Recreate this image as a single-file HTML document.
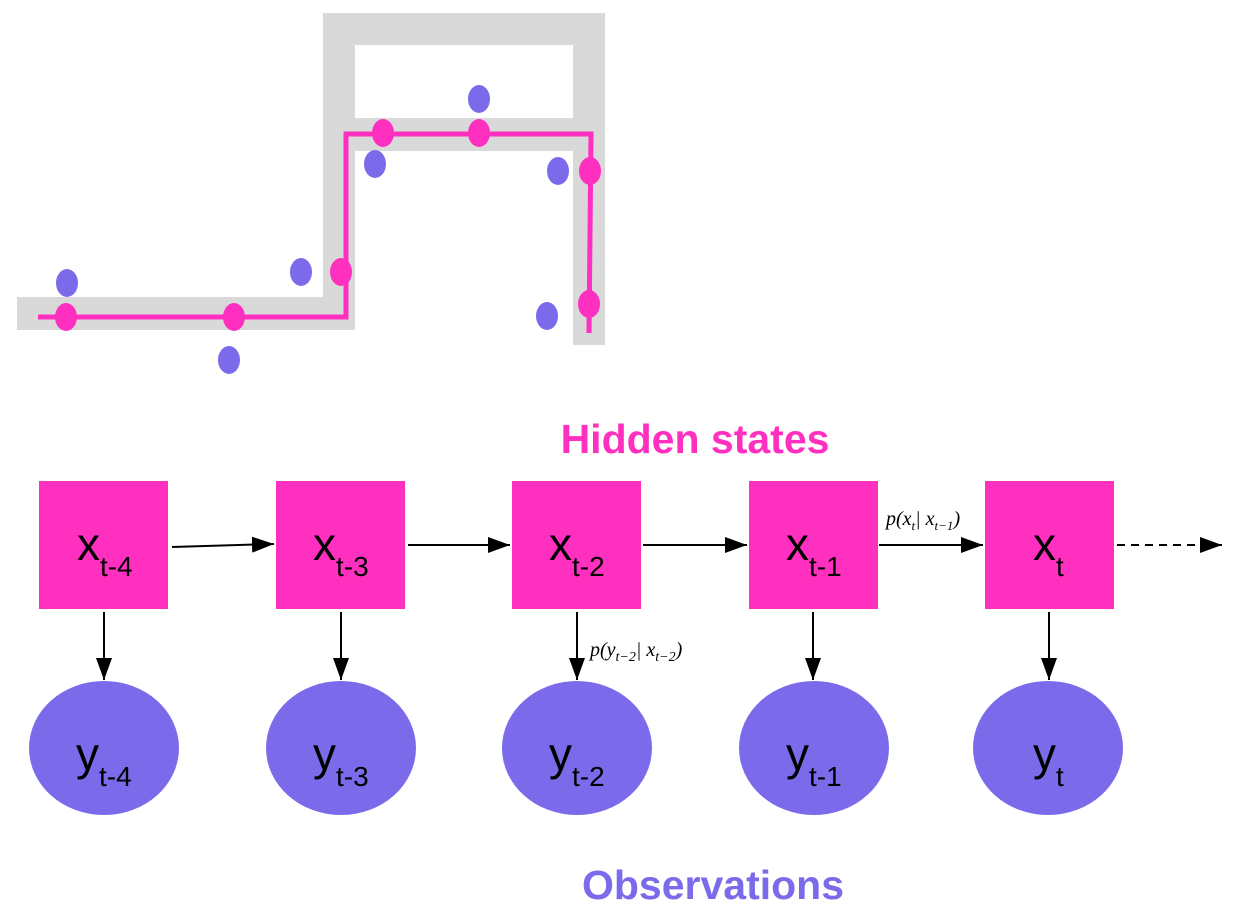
<!DOCTYPE html>
<html><head><style>body{margin:0;background:#fff}svg{display:block}</style></head><body>
<svg width="1238" height="912" viewBox="0 0 1238 912" xmlns="http://www.w3.org/2000/svg" font-family="Liberation Sans, sans-serif">
<defs>
<marker id="b" markerWidth="22" markerHeight="16" refX="22" refY="8" orient="auto" markerUnits="userSpaceOnUse"><path d="M0,0 L22,8 L0,16 z" fill="#000"/></marker></defs>
<g fill="#d9d9d9">
<rect x="17" y="297" width="338" height="33"/>
<rect x="323" y="118" width="32" height="212"/>
<rect x="323" y="13" width="282" height="32"/>
<rect x="323" y="13" width="32" height="105"/>
<rect x="573" y="13" width="32" height="332"/>
<rect x="323" y="118" width="282" height="33"/>
</g>
<polyline points="38,317 346,317 346,134 591,134 589,333" fill="none" stroke="#ff2fbf" stroke-width="5"/>
<g fill="#ff2fbf">
<ellipse cx="66" cy="317" rx="11" ry="14"/><ellipse cx="234" cy="317" rx="11" ry="14"/>
<ellipse cx="341" cy="272" rx="11" ry="14"/><ellipse cx="383" cy="133" rx="11" ry="14"/>
<ellipse cx="479" cy="133" rx="11" ry="14"/><ellipse cx="590" cy="171" rx="11" ry="14"/>
<ellipse cx="589" cy="304" rx="11" ry="14"/></g>
<g fill="#7b6bea">
<ellipse cx="67" cy="283" rx="11" ry="14"/><ellipse cx="229" cy="360" rx="11" ry="14"/>
<ellipse cx="301" cy="272" rx="11" ry="14"/><ellipse cx="479" cy="99" rx="11" ry="14"/>
<ellipse cx="375" cy="164" rx="11" ry="14"/><ellipse cx="558" cy="171" rx="11" ry="14"/>
<ellipse cx="547" cy="316" rx="11" ry="14"/></g>
<text x="695" y="453" text-anchor="middle" font-size="41" font-weight="bold" fill="#ff2fbf">Hidden states</text>
<text x="713" y="899" text-anchor="middle" font-size="41" font-weight="bold" fill="#7b6bea">Observations</text>
<g fill="#ff2fbf">
<rect x="39" y="481" width="129" height="128"/><rect x="276" y="481" width="129" height="128"/>
<rect x="512" y="481" width="129" height="128"/><rect x="749" y="481" width="129" height="128"/>
<rect x="985" y="481" width="129" height="128"/></g>
<g fill="#7b6bea">
<ellipse cx="104" cy="748" rx="75" ry="67"/><ellipse cx="341" cy="748" rx="75" ry="67"/>
<ellipse cx="577" cy="748" rx="75" ry="67"/><ellipse cx="814" cy="748" rx="75" ry="67"/>
<ellipse cx="1048" cy="748" rx="75" ry="67"/></g>
<g stroke="#000" stroke-width="2" fill="none">
<line x1="172" y1="547" x2="274" y2="544" marker-end="url(#b)"/>
<line x1="408" y1="545" x2="510" y2="545" marker-end="url(#b)"/>
<line x1="643" y1="545" x2="747" y2="545" marker-end="url(#b)"/>
<line x1="879" y1="545" x2="983" y2="545" marker-end="url(#b)"/>
<line x1="1117" y1="545" x2="1222" y2="545" stroke-dasharray="8,6" marker-end="url(#b)"/>
<line x1="104" y1="612" x2="104" y2="680" marker-end="url(#b)"/>
<line x1="341" y1="612" x2="341" y2="680" marker-end="url(#b)"/>
<line x1="577" y1="612" x2="577" y2="680" marker-end="url(#b)"/>
<line x1="813" y1="612" x2="813" y2="680" marker-end="url(#b)"/>
<line x1="1049" y1="612" x2="1049" y2="680" marker-end="url(#b)"/>
</g>
<g font-size="46" fill="#000">
<text x="77" y="560">x<tspan font-size="28" dy="16">t-4</tspan></text>
<text x="313" y="560">x<tspan font-size="28" dy="16">t-3</tspan></text>
<text x="549" y="560">x<tspan font-size="28" dy="16">t-2</tspan></text>
<text x="786" y="560">x<tspan font-size="28" dy="16">t-1</tspan></text>
<text x="1033" y="560">x<tspan font-size="28" dy="16">t</tspan></text>
<text x="76" y="770">y<tspan font-size="28" dy="16">t-4</tspan></text>
<text x="313" y="770">y<tspan font-size="28" dy="16">t-3</tspan></text>
<text x="549" y="770">y<tspan font-size="28" dy="16">t-2</tspan></text>
<text x="786" y="770">y<tspan font-size="28" dy="16">t-1</tspan></text>
<text x="1033" y="770">y<tspan font-size="28" dy="16">t</tspan></text>
</g>
<g font-family="Liberation Serif, serif" font-style="italic" font-size="20" fill="#000">
<text x="886" y="525">p(x<tspan font-size="13" dy="5">t</tspan><tspan dy="-5">| x</tspan><tspan font-size="13" dy="5">t−1</tspan><tspan dy="-5">)</tspan></text>
<text x="590" y="656">p(y<tspan font-size="14" dy="5">t−2</tspan><tspan dy="-5">| x</tspan><tspan font-size="14" dy="5">t−2</tspan><tspan dy="-5">)</tspan></text>
</g>
</svg>
</body></html>
